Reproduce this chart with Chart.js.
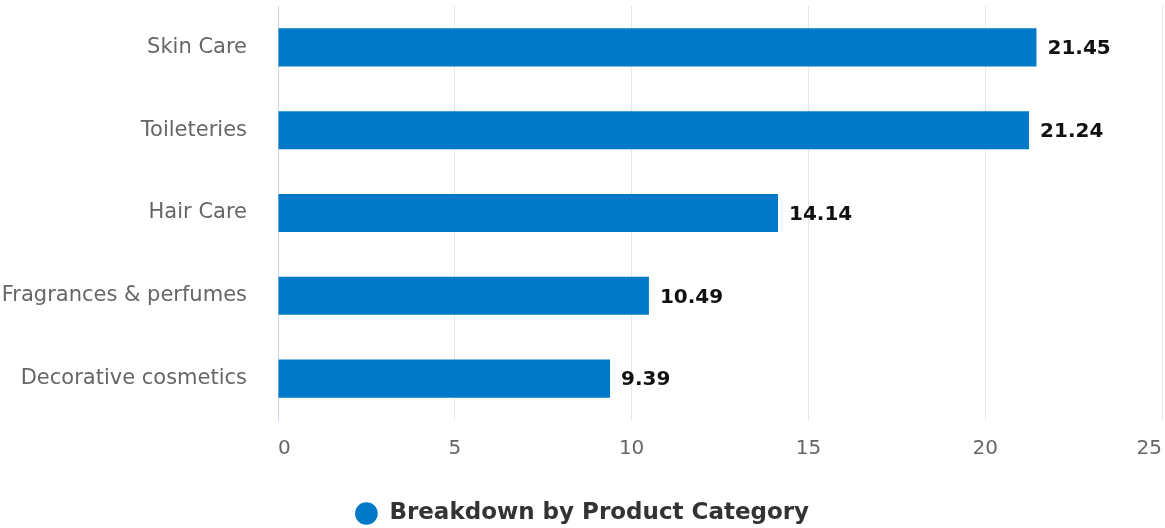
<!DOCTYPE html>
<html>
<head>
<meta charset="utf-8">
<script src="https://cdn.jsdelivr.net/npm/chart.js@4.4.1/dist/chart.umd.min.js"></script>
<style>
  html, body { margin: 0; padding: 0; background: #fff; }
  #wrap { width: 1165px; height: 528px; }
</style>
</head>
<body>
<div id="wrap"><canvas id="chart1"></canvas></div>
<script>
const categories = ['Skin Care', 'Toileteries', 'Hair Care', 'Fragrances & perfumes', 'Decorative cosmetics'];
const shares = [21.45, 21.24, 14.14, 10.49, 9.39];
const seriesName = 'Breakdown by Product Category';
const xTicks = [0, 5, 10, 15, 20, 25];

const barColor = '#0079c9';
const fontFamily = '"DejaVu Sans", Verdana, sans-serif';

// value text printed just past the end of each bar
const valueLabels = {
  id: 'valueLabels',
  afterDatasetsDraw(chart) {
    const ctx = chart.ctx;
    const meta = chart.getDatasetMeta(0);
    ctx.save();
    ctx.font = 'bold 20px ' + fontFamily;
    ctx.textAlign = 'left';
    ctx.textBaseline = 'middle';
    meta.data.forEach((bar, i) => {
      ctx.fillStyle = '#111111';
      ctx.fillText(shares[i].toFixed(2), bar.x + 11, bar.y + 1.5);
    });
    ctx.restore();
  }
};

const chartCtx = document.getElementById('chart1').getContext('2d');
const chart1 = new Chart(chartCtx, {
  type: 'bar',
  data: {
    labels: categories,
    datasets: [{
      label: seriesName,
      data: shares,
      backgroundColor: barColor,
      borderWidth: 0,
      barPercentage: 0.46,
      categoryPercentage: 1,
      pointStyle: 'circle'
    }]
  },
  options: {
    indexAxis: 'y',
    responsive: true,
    maintainAspectRatio: false,
    animation: false,
    layout: { padding: { top: 6, right: 3, left: 2, bottom: -7 } },
    plugins: {
      tooltip: { enabled: false },
      legend: {
        position: 'bottom',
        labels: {
          usePointStyle: true,
          boxWidth: 23,
          boxHeight: 16,
          padding: 43,
          color: '#333333',
          font: { family: fontFamily, size: 23, weight: 'bold' }
        }
      }
    },
    scales: {
      x: {
        type: 'linear',
        min: 0,
        max: 25,
        afterBuildTicks: (scale) => { scale.ticks = xTicks.map(v => ({ value: v })); },
        // fixed band under the plot; no side room for the end labels
        afterFit: (scale) => {
          scale.height = 39;
          scale.paddingLeft = 0;
          scale.paddingRight = 0;
        },
        grid: { color: '#e6e6e6', drawTicks: false },
        border: { display: false },
        ticks: {
          align: 'inner',
          padding: 17,
          color: '#666666',
          font: { family: fontFamily, size: 20 }
        }
      },
      y: {
        afterFit: (scale) => {
          scale.width = 276;
          scale.paddingTop = 0;
          scale.paddingBottom = 0;
        },
        grid: { display: false, drawTicks: false },
        border: { display: true, color: '#ccd6eb', width: 1 },
        ticks: {
          padding: 31,
          color: '#666666',
          font: { family: fontFamily, size: 21 }
        }
      }
    }
  },
  plugins: [valueLabels]
});
</script>
</body>
</html>
